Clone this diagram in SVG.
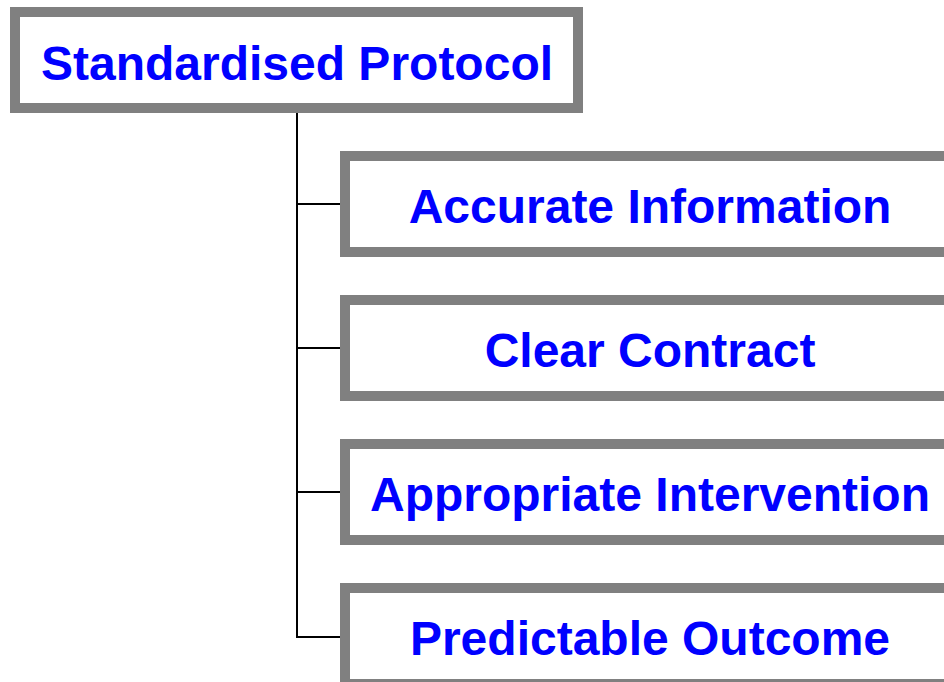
<svg xmlns="http://www.w3.org/2000/svg" width="944" height="682" viewBox="0 0 944 682">
<style>
.box{fill:#ffffff;stroke:#808080;stroke-width:10}
.lbl{font-family:"Liberation Sans",Arial,sans-serif;font-weight:bold;font-size:48px;fill:#0000ff;text-anchor:middle}
.conn{fill:none;stroke:#000000;stroke-width:2}
</style>
<rect width="944" height="682" fill="#ffffff"/>
<g id="connectors">
<path class="conn" d="M297,113 V637 H340"/>
<path class="conn" d="M297,204 H340"/>
<path class="conn" d="M297,348 H340"/>
<path class="conn" d="M297,492 H340"/>
</g>
<g id="root">
<rect class="box" x="15" y="12" width="563" height="96"/>
<text class="lbl" x="297" y="80">Standardised Protocol</text>
</g>
<g id="n1">
<rect class="box" x="345" y="156" width="610" height="96"/>
<text class="lbl" x="650" y="223">Accurate Information</text>
</g>
<g id="n2">
<rect class="box" x="345" y="300" width="610" height="96"/>
<text class="lbl" x="650" y="367">Clear Contract</text>
</g>
<g id="n3">
<rect class="box" x="345" y="444" width="610" height="96"/>
<text class="lbl" x="650" y="511">Appropriate Intervention</text>
</g>
<g id="n4">
<rect class="box" x="345" y="588" width="610" height="96"/>
<text class="lbl" x="650" y="655">Predictable Outcome</text>
</g>
</svg>
